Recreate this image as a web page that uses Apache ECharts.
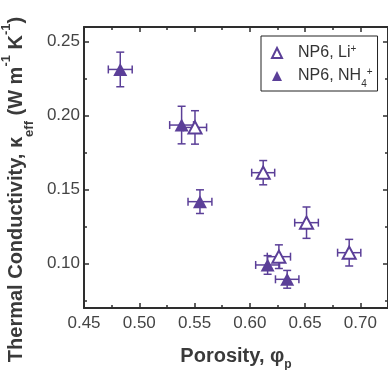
<!DOCTYPE html>
<html>
<head>
<meta charset="utf-8">
<script src="https://cdn.jsdelivr.net/npm/echarts@6/dist/echarts.min.js"></script>
<style>html,body{margin:0;padding:0;background:#fff;}#c{width:388px;height:370px;}</style>
</head>
<body>
<div id="c"></div>
<script>
// ---- data ----
var liX    = [0.5504, 0.6121, 0.6263, 0.6513, 0.6899];
var liY    = [0.1921, 0.1615, 0.1047, 0.1277, 0.1074];
var liXErr = [0.0105, 0.0104, 0.0105, 0.0107, 0.0105];
var liYErr = [0.0113, 0.0082, 0.0080, 0.0106, 0.0090];

var nhX    = [0.4828, 0.5383, 0.5549, 0.6161, 0.6338];
var nhY    = [0.2313, 0.1937, 0.1419, 0.0991, 0.0894];
var nhXErr = [0.0108, 0.0108, 0.0108, 0.0108, 0.0106];
var nhYErr = [0.0117, 0.0127, 0.0080, 0.0063, 0.0060];

var xMajor = [0.45, 0.50, 0.55, 0.60, 0.65, 0.70];
var xMinor = [0.475, 0.525, 0.575, 0.625, 0.675, 0.725];
var yMajor = [0.10, 0.15, 0.20, 0.25];
var yMinor = [0.075, 0.125, 0.175, 0.225];

var seriesNames = ['NP6, Li+', 'NP6, NH4+'];

var PURPLE = '#5b3f98';
var AXIS = '#2e2e2e';
var FONT = '"Liberation Sans", Arial, sans-serif';

function pts(xs, ys, xe, ye) {
  return xs.map(function (x, i) { return [x, ys[i], xe[i], ye[i]]; });
}

function errRender(params, api) {
  var x = api.value(0), y = api.value(1), dx = api.value(2), dy = api.value(3);
  var c = api.coord([x, y]);
  var l = api.coord([x - dx, y]), r = api.coord([x + dx, y]);
  var t = api.coord([x, y + dy]), b = api.coord([x, y - dy]);
  var cap = 4;
  var st = { stroke: PURPLE, lineWidth: 1.5 };
  function line(x1, y1, x2, y2) {
    return { type: 'line', shape: { x1: x1, y1: y1, x2: x2, y2: y2 }, style: st };
  }
  return {
    type: 'group',
    children: [
      line(l[0], c[1], r[0], c[1]),
      line(l[0], c[1] - cap, l[0], c[1] + cap),
      line(r[0], c[1] - cap, r[0], c[1] + cap),
      line(c[0], t[1], c[0], b[1]),
      line(c[0] - cap, t[1], c[0] + cap, t[1]),
      line(c[0] - cap, b[1], c[0] + cap, b[1])
    ]
  };
}

function tickAxis(base, extra) {
  var o = {};
  for (var k in base) o[k] = base[k];
  for (var k2 in extra) o[k2] = extra[k2];
  return o;
}

var xBase = { type: 'value', min: 0.45, max: 0.725, gridIndex: 0, splitLine: { show: false } };
var yBase = { type: 'value', min: 0.07, max: 0.26, gridIndex: 0, splitLine: { show: false } };

var chart = echarts.init(document.getElementById('c'), null, { renderer: 'canvas' });
chart.setOption({
  animation: false,
  backgroundColor: '#fff',
  grid: { left: 84, top: 27, right: 0, bottom: 62, containLabel: false, outerBoundsMode: 'none' },
  xAxis: [
    tickAxis(xBase, {
      position: 'bottom',
      name: '{b|Porosity, φ}{bs|p}',
      nameLocation: 'middle',
      nameGap: 37,
      nameTextStyle: {
        rich: {
          b: { fontFamily: FONT, fontWeight: 'bold', fontSize: 20, lineHeight: 22, color: '#3a3a3a' },
          bs: { fontFamily: FONT, fontWeight: 'bold', fontSize: 12, lineHeight: 12, color: '#3a3a3a', verticalAlign: 'bottom', padding: [0, 0, -4, 0] }
        }
      },
      axisLine: { show: true, onZero: false, lineStyle: { color: AXIS, width: 2 } },
      axisTick: { show: true, inside: true, length: 5, customValues: xMajor, lineStyle: { color: AXIS, width: 1.5 } },
      axisLabel: { show: true, customValues: xMajor, margin: 7, fontFamily: FONT, fontSize: 17, color: '#444',
        formatter: function (v) { return v.toFixed(2); } }
    }),
    tickAxis(xBase, {
      position: 'bottom',
      axisLine: { show: false },
      axisTick: { show: true, inside: true, length: 3, customValues: xMinor, lineStyle: { color: AXIS, width: 1.5 } },
      axisLabel: { show: false }
    }),
    tickAxis(xBase, {
      position: 'top',
      axisLine: { show: true, onZero: false, lineStyle: { color: AXIS, width: 2 } },
      axisTick: { show: true, inside: true, length: 5, customValues: xMajor, lineStyle: { color: AXIS, width: 1.5 } },
      axisLabel: { show: false }
    }),
    tickAxis(xBase, {
      position: 'top',
      axisLine: { show: false },
      axisTick: { show: true, inside: true, length: 3, customValues: xMinor, lineStyle: { color: AXIS, width: 1.5 } },
      axisLabel: { show: false }
    })
  ],
  yAxis: [
    tickAxis(yBase, {
      position: 'left',
      name: '{b|Thermal Conductivity, κ}{bs|eff}{b| (W m}{sp|-1}{b| K}{sp|-1}{b|)}',
      nameLocation: 'middle',
      nameGap: 58,
      nameTextStyle: {
        padding: [0, 44, 0, 0],
        rich: {
          b: { fontFamily: FONT, fontWeight: 'bold', fontSize: 20, color: '#3a3a3a' },
          bs: { fontFamily: FONT, fontWeight: 'bold', fontSize: 13, color: '#3a3a3a', verticalAlign: 'bottom', padding: [0, 0, -10, 0] },
          sp: { fontFamily: FONT, fontWeight: 'bold', fontSize: 13, color: '#3a3a3a', verticalAlign: 'top', padding: [-6, 0, 0, 0] }
        }
      },
      axisLine: { show: true, onZero: false, lineStyle: { color: AXIS, width: 2 } },
      axisTick: { show: true, inside: true, length: 5, customValues: yMajor, lineStyle: { color: AXIS, width: 1.5 } },
      axisLabel: { show: true, customValues: yMajor, margin: 4, fontFamily: FONT, fontSize: 17, color: '#444',
        formatter: function (v) { return v.toFixed(2); } }
    }),
    tickAxis(yBase, {
      position: 'left',
      axisLine: { show: false },
      axisTick: { show: true, inside: true, length: 3, customValues: yMinor, lineStyle: { color: AXIS, width: 1.5 } },
      axisLabel: { show: false }
    }),
    tickAxis(yBase, {
      position: 'right',
      axisLine: { show: true, onZero: false, lineStyle: { color: AXIS, width: 2 } },
      axisTick: { show: true, inside: true, length: 5, customValues: yMajor, lineStyle: { color: AXIS, width: 1.5 } },
      axisLabel: { show: false }
    }),
    tickAxis(yBase, {
      position: 'right',
      axisLine: { show: false },
      axisTick: { show: true, inside: true, length: 3, customValues: yMinor, lineStyle: { color: AXIS, width: 1.5 } },
      axisLabel: { show: false }
    })
  ],
  legend: {
    orient: 'vertical',
    left: 261,
    top: 36,
    padding: [8, 5, 2, 10],
    itemGap: 6,
    itemWidth: 10,
    itemHeight: 10,
    borderColor: '#222',
    borderWidth: 1,
    backgroundColor: '#fff',
    data: [
      { name: seriesNames[0], icon: 'triangle', itemStyle: { color: '#fff', borderColor: PURPLE, borderWidth: 2 } },
      { name: seriesNames[1], icon: 'triangle', itemStyle: { color: PURPLE, borderColor: PURPLE, borderWidth: 0 } }
    ],
    formatter: function (n) {
      if (n === seriesNames[0]) return '{a|NP6, Li}{sp|+}';
      return '{a|NP6, NH}{sb|4}{sp|+}';
    },
    textStyle: {
      padding: [0, 0, 0, 11],
      rich: {
        a: { fontFamily: FONT, fontSize: 16, lineHeight: 18, color: '#333' },
        sp: { fontFamily: FONT, fontSize: 10, lineHeight: 10, color: '#333', verticalAlign: 'top' },
        sb: { fontFamily: FONT, fontSize: 10, lineHeight: 10, color: '#333', verticalAlign: 'bottom', padding: [0, 0, -4, 0] }
      }
    }
  },
  series: [
    {
      name: 'errLi', type: 'custom', xAxisIndex: 0, yAxisIndex: 0, z: 2,
      renderItem: errRender, data: pts(liX, liY, liXErr, liYErr), silent: true
    },
    {
      name: 'errNH', type: 'custom', xAxisIndex: 0, yAxisIndex: 0, z: 2,
      renderItem: errRender, data: pts(nhX, nhY, nhXErr, nhYErr), silent: true
    },
    {
      name: seriesNames[0], type: 'scatter', xAxisIndex: 0, yAxisIndex: 0, z: 3,
      symbol: 'triangle', symbolSize: [13, 12],
      itemStyle: { color: '#fff', borderColor: PURPLE, borderWidth: 2, opacity: 1 },
      data: liX.map(function (x, i) { return [x, liY[i]]; })
    },
    {
      name: seriesNames[1], type: 'scatter', xAxisIndex: 0, yAxisIndex: 0, z: 3,
      symbol: 'triangle', symbolSize: [14, 13],
      itemStyle: { color: PURPLE, opacity: 1 },
      data: nhX.map(function (x, i) { return [x, nhY[i]]; })
    }
  ]
});
</script>
</body>
</html>
